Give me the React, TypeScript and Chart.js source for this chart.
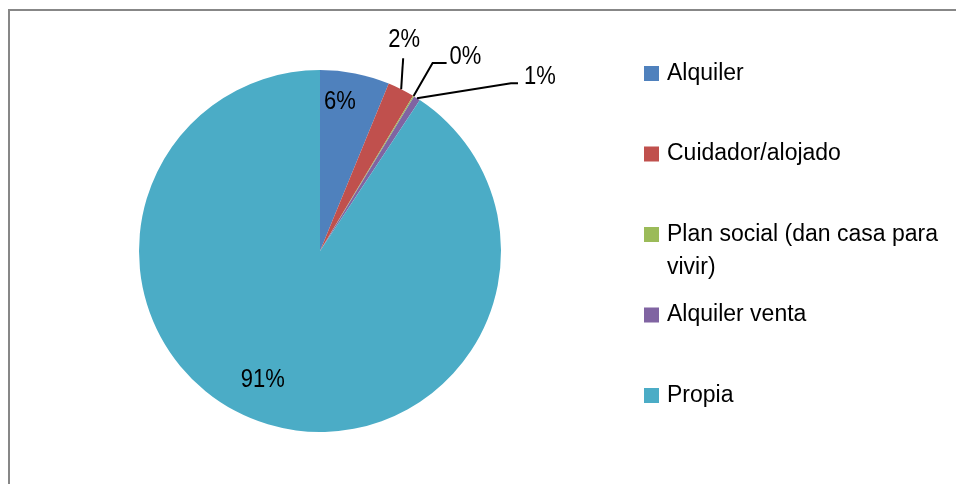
import React, { useEffect, useRef } from "react";
import { Chart, registerables } from "chart.js";

Chart.register(...registerables);

const categories = ["Alquiler", "Cuidador/alojado", "Plan social (dan casa para vivir)", "Alquiler venta", "Propia"];
const values = [6.2, 2.4, 0.1, 0.6, 90.7];
const colors = ["#4F81BD", "#C0504D", "#9BBB59", "#8064A2", "#4BACC6"];

// label placement styles per slice
type LabelStyle =
  | { kind: "inside"; t: number; rf: number }
  | { kind: "outside"; path: [number, number][]; textDx: number; textDy: number; align: CanvasTextAlign; baseline: CanvasTextBaseline };

const labelStyles: LabelStyle[] = [
  { kind: "inside", t: 0.34, rf: 0.83 },
  { kind: "outside", path: [[2, -31]], textDx: 1, textDy: -5, align: "center", baseline: "bottom" },
  { kind: "outside", path: [[19, -33], [33, -33]], textDx: 3, textDy: -6, align: "left", baseline: "middle" },
  { kind: "outside", path: [[94, -15], [101, -15]], textDx: 6, textDy: -6, align: "left", baseline: "middle" },
  { kind: "inside", t: 0.522, rf: 0.78 },
];

const FONT = '"Liberation Sans", Arial, sans-serif';

function stretchedText(ctx: CanvasRenderingContext2D, txt: string, x: number, y: number, sy: number) {
  ctx.save();
  ctx.translate(x, y);
  ctx.scale(1, sy);
  ctx.fillText(txt, 0, 0);
  ctx.restore();
}

const overlayPlugin = {
  id: "overlay",
  beforeDraw(chart: any) {
    const ctx = chart.ctx as CanvasRenderingContext2D;
    ctx.save();
    ctx.strokeStyle = "#878787";
    ctx.lineWidth = 2;
    ctx.beginPath();
    ctx.moveTo(9, 484);
    ctx.lineTo(9, 10);
    ctx.lineTo(956, 10);
    ctx.stroke();
    ctx.restore();
  },
  afterDatasetsDraw(chart: any) {
    const ctx = chart.ctx as CanvasRenderingContext2D;
    const meta = chart.getDatasetMeta(0);
    const data = chart.data.datasets[0].data as number[];
    const total = data.reduce((a, b) => a + b, 0);
    ctx.save();
    ctx.font = `22px ${FONT}`;
    ctx.fillStyle = "#000";
    ctx.strokeStyle = "#000";
    ctx.lineWidth = 2;
    meta.data.forEach((arc: any, i: number) => {
      const p = arc.getProps(["x", "y", "startAngle", "endAngle", "outerRadius"], true);
      const txt = Math.round((data[i] / total) * 100) + "%";
      const st = labelStyles[i];
      if (st.kind === "inside") {
        const a = p.startAngle + st.t * (p.endAngle - p.startAngle);
        const r = p.outerRadius * st.rf;
        ctx.textAlign = "center";
        ctx.textBaseline = "middle";
        stretchedText(ctx, txt, p.x + Math.cos(a) * r, p.y + Math.sin(a) * r, 1.2);
      } else {
        const a = (p.startAngle + p.endAngle) / 2;
        const ex = p.x + Math.cos(a) * p.outerRadius;
        const ey = p.y + Math.sin(a) * p.outerRadius;
        ctx.beginPath();
        ctx.moveTo(ex, ey);
        let lx = ex, ly = ey;
        st.path.forEach(([dx, dy]) => {
          lx = ex + dx;
          ly = ey + dy;
          ctx.lineTo(lx, ly);
        });
        ctx.stroke();
        ctx.textAlign = st.align;
        ctx.textBaseline = st.baseline;
        stretchedText(ctx, txt, lx + st.textDx, ly + st.textDy, 1.2);
      }
    });

    // legend
    ctx.font = `23px ${FONT}`;
    ctx.textAlign = "left";
    ctx.textBaseline = "middle";
    const lx = 644;
    const box = 15;
    const startY = 73.5;
    const step = 80.5;
    const lineH = 33;
    const maxW = 285;
    categories.forEach((c, i) => {
      const cy = startY + i * step;
      ctx.fillStyle = colors[i];
      ctx.fillRect(lx, cy - box / 2, box, box);
      ctx.fillStyle = "#000";
      const words = c.split(" ");
      const lines: string[] = [];
      let cur = "";
      words.forEach((w) => {
        const t = cur ? cur + " " + w : w;
        if (ctx.measureText(t).width > maxW && cur) {
          lines.push(cur);
          cur = w;
        } else cur = t;
      });
      if (cur) lines.push(cur);
      lines.forEach((ln, k) => stretchedText(ctx, ln, lx + 23, cy - 0.5 + k * lineH, 1.07));
    });
    ctx.restore();
  },
};

export default function App() {
  const ref = useRef<HTMLCanvasElement>(null);
  useEffect(() => {
    if (!ref.current) return;
    const chart = new Chart(ref.current, {
      type: "pie",
      data: {
        labels: categories,
        datasets: [
          {
            data: values,
            backgroundColor: colors,
            borderWidth: 0,
          },
        ],
      },
      options: {
        responsive: false,
        animation: false,
        layout: { padding: { left: 139, right: 455, top: 70, bottom: 52 } },
        plugins: {
          legend: { display: false },
          tooltip: { enabled: false },
        },
      },
      plugins: [overlayPlugin],
    });
    return () => chart.destroy();
  }, []);
  return (
    <div style={{ position: "fixed", left: 0, top: 0, width: 956, height: 484, background: "#fff" }}>
      <canvas ref={ref} width={956} height={484} style={{ width: 956, height: 484, display: "block" }} />
    </div>
  );
}
